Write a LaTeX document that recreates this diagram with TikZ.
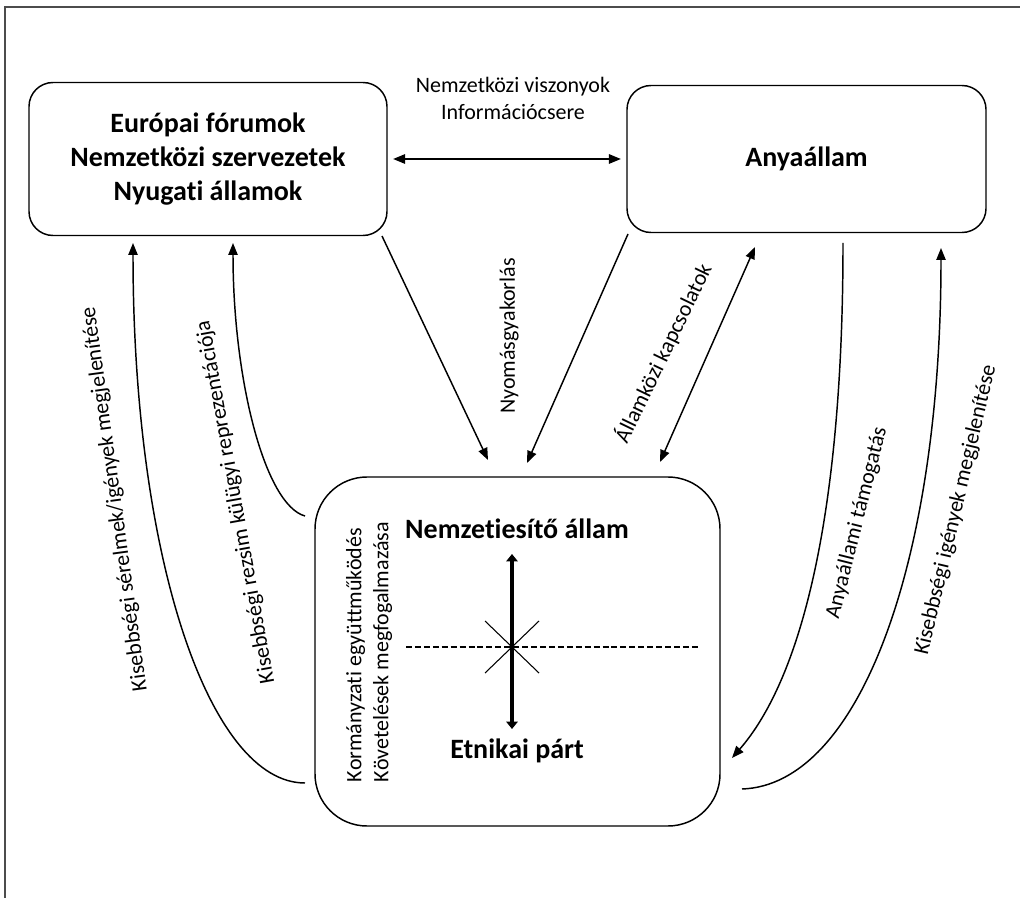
\documentclass[tikz,border=0pt]{standalone}
\usepackage{fontspec}
\setmainfont{Carlito}[Ligatures={NoCommon}]
\usetikzlibrary{arrows.meta}
\begin{document}
\begin{tikzpicture}[x=0.75pt,y=-0.75pt,
  box/.style={draw, line width=1.1pt, rounded corners=18pt, align=center, inner sep=0pt},
  arr/.style={line width=1.1pt, -{Triangle[length=9pt,width=7pt]}},
  darr/.style={line width=1.1pt, {Triangle[length=9pt,width=7pt]}-{Triangle[length=9pt,width=7pt]}},
  lab/.style={font=\fontsize{16.5}{20.25}\selectfont, inner sep=0pt},
  big/.style={font=\fontsize{21}{25.5}\selectfont\bfseries, inner sep=0pt}
]
\useasboundingbox (0,0) rectangle (1020,898);
\draw[line width=1pt, black!70] (5,898) -- (5,7) -- (1020,7);

% boxes
\node[box, big, minimum width=268.5pt, minimum height=114.75pt] (L) at (208,159) {Európai fórumok\\Nemzetközi szervezetek\\Nyugati államok};
\node[box, big, minimum width=269.25pt, minimum height=110.25pt] (R) at (806.5,159) {Anyaállam};
\node[box, rounded corners=39pt, minimum width=303.75pt, minimum height=261.75pt] (C) at (517.5,651.5) {};

% inside the centre box
\node[big, anchor=base] (ns) at (517,538) {Nemzetiesítő állam};
\node[big, anchor=base] (ep) at (517,758) {Etnikai párt};
\coordinate (vt) at (512,554);
\coordinate (vb) at (512,729);
\draw[line width=3pt, {Triangle[length=5.5pt,width=8.5pt]}-{Triangle[length=5.5pt,width=8.5pt]}] (vt) -- (vb);
\coordinate (dl) at (406,647);
\coordinate (dr) at (700,647);
\draw[line width=0.8pt, dash pattern=on 4.5pt off 2.2pt] (dl) -- (dr);
\draw[line width=0.8pt] (485,621) -- (539,673) (485,673) -- (539,621);
\node[lab, rotate=90, align=left] (kt) at (369,652) {Kormányzati együttműködés\\Követelések megfogalmazása};

% top connector
\draw[darr, line width=1.4pt, shorten <=4pt, shorten >=4pt] (L.east) -- (R.west);
\node[lab, align=center] (tl) at (513,98) {Nemzetközi viszonyok\\Információcsere};

% diagonal connectors
\coordinate (d1s) at (382,236);
\coordinate (d1e) at (488,460);
\draw[arr] (d1s) -- (d1e);
\coordinate (d2s) at (628,234);
\coordinate (d2e) at (527,463);
\draw[arr] (d2s) -- (d2e);
\coordinate (d3s) at (660,462);
\coordinate (d3e) at (755,247);
\draw[darr] (d3s) -- (d3e);
\node[lab, rotate=90] (nyl) at (509,336) {Nyomásgyakorlás};
\node[lab, rotate=64.2] (akl) at (663,353) {Államközi kapcsolatok};

% curved connectors
\coordinate (c1s) at (305,783);
\coordinate (c1e) at (133,243);
\draw[arr] (c1s) .. controls (210,783) and (133,560) .. (c1e);
\coordinate (c2s) at (305,516);
\coordinate (c2e) at (233,243);
\draw[arr] (c2s) .. controls (265,505) and (233,380) .. (c2e);
\coordinate (c3s) at (843,243);
\coordinate (c3e) at (732,758);
\draw[arr] (c3s) .. controls (843,520) and (800,680) .. (c3e);
\coordinate (c4s) at (742,789);
\coordinate (c4e) at (941,248);
\draw[arr] (c4s) .. controls (860,785) and (941,560) .. (c4e);

\node[lab, rotate=97.75] (l1) at (115,499) {Kisebbségi sérelmek/igények megjelenítése};
\node[lab, rotate=100.2] (l2) at (236,502) {Kisebbségi rezsim külügyi reprezentációja};
\node[lab, rotate=75.9] (l3) at (857,523) {Anyaállami támogatás};
\node[lab, rotate=76.8] (l4) at (956,510) {Kisebbségi igények megjelenítése};
\end{tikzpicture}
\end{document}
